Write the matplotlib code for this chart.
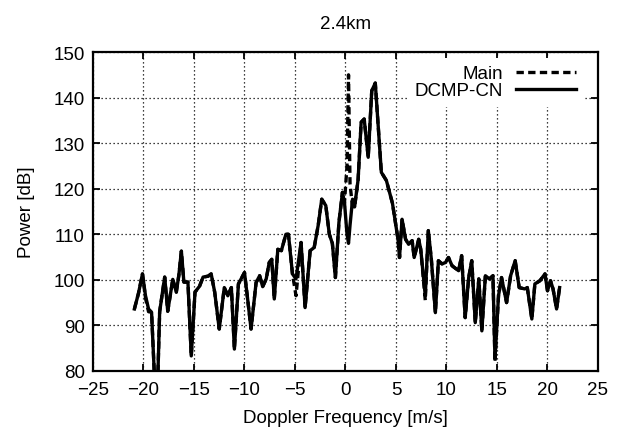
import matplotlib
matplotlib.use("Agg")
import matplotlib.pyplot as plt

plt.rcParams['font.family'] = ['Liberation Sans', 'DejaVu Sans']

### Spectrum values (Doppler velocity [m/s] vs power [dB])
freq = [-20.9, -20.5, -20.1, -19.8, -19.5, -19.2, -18.9, -18.6, -18.4, -17.9,
        -17.6, -17.1, -16.75, -16.5, -16.25, -16.0, -15.6, -15.27, -14.9, -14.45,
        -14.1, -13.6, -13.3, -12.95, -12.5, -12.0, -11.65, -11.3, -11.0, -10.6,
        -10.0, -9.7, -9.35, -8.85, -8.5, -8.2, -7.85, -7.55, -7.3, -7.05,
        -6.7, -6.35, -5.9, -5.65, -5.25, -4.9, -4.4, -4.0, -3.5, -3.1,
        -2.7, -2.35, -1.95, -1.6, -1.3, -1.0, -0.65, -0.3, -0.1, 0.15,
        0.3, 0.45, 0.7, 0.9, 1.25, 1.55, 1.85, 2.25, 2.6, 2.95,
        3.55, 4.05, 4.65, 5.2, 5.35, 5.6, 5.95, 6.25, 6.6, 6.8,
        7.25, 7.45, 7.9, 8.2, 8.5, 8.9, 9.2, 9.55, 9.9, 10.2,
        10.55, 10.9, 11.2, 11.5, 11.85, 12.2, 12.5, 12.85, 13.2, 13.5,
        13.85, 14.25, 14.6, 14.8, 15.15, 15.45, 15.95, 16.35, 16.8, 17.2,
        17.75, 18.0, 18.45, 18.75, 19.25, 19.75, 20.0, 20.3, 20.55, 20.9,
        21.2]

dcmp_cn = [93.6, 97.0, 101.3, 96.5, 93.6, 92.9, 78.0, 77.0, 93.0, 100.6,
           93.1, 100.1, 97.3, 101.0, 106.3, 99.5, 99.5, 83.3, 97.3, 98.6,
           100.6, 100.8, 101.3, 97.3, 89.2, 98.3, 96.5, 98.3, 84.8, 99.1,
           101.6, 96.0, 89.2, 99.4, 100.9, 98.5, 100.2, 103.8, 104.5, 95.8,
           106.7, 106.4, 110.0, 110.0, 101.3, 100.2, 108.2, 93.9, 106.4, 107.1,
           112.0, 117.7, 116.3, 110.0, 108.0, 100.5, 112.6, 119.2, 117.0, 110.0,
           108.0, 112.0, 117.7, 116.0, 122.0, 134.6, 135.3, 126.9, 141.5, 143.2,
           123.6, 121.8, 116.8, 108.9, 104.9, 113.3, 108.9, 107.8, 108.6, 104.9,
           108.9, 106.7, 96.5, 110.8, 104.5, 92.8, 104.2, 103.5, 103.8, 104.9,
           103.1, 102.5, 102.0, 105.3, 91.7, 100.5, 104.2, 90.6, 100.2, 88.8,
           100.9, 100.2, 100.9, 82.6, 96.5, 100.5, 95.0, 100.9, 104.2, 98.3,
           98.0, 98.3, 91.4, 99.1, 99.8, 101.3, 97.6, 99.8, 98.0, 93.6,
           98.3]

main = [93.6, 97.0, 101.3, 96.0, 93.0, 92.9, 78.0, 77.0, 93.0, 100.6,
        93.1, 100.1, 97.3, 101.0, 106.3, 99.5, 99.5, 83.3, 97.3, 98.6,
        100.6, 100.8, 101.3, 97.3, 89.2, 98.3, 96.5, 98.3, 84.8, 99.1,
        101.6, 96.0, 89.2, 99.4, 100.9, 98.5, 100.2, 103.8, 104.5, 95.8,
        106.7, 106.4, 110.0, 110.0, 101.3, 96.5, 108.2, 93.9, 106.4, 107.1,
        112.0, 117.7, 116.3, 110.0, 108.0, 100.5, 112.6, 119.2, 117.0, 125.0,
        145.0, 121.0, 116.0, 116.0, 122.0, 134.6, 135.3, 126.9, 141.5, 143.2,
        123.6, 121.8, 116.8, 108.9, 104.9, 113.3, 108.9, 107.8, 108.6, 104.9,
        108.9, 106.7, 95.5, 110.8, 104.5, 92.8, 104.2, 103.5, 103.8, 104.9,
        103.1, 102.5, 102.0, 105.3, 91.7, 100.5, 104.2, 90.6, 100.2, 88.8,
        100.9, 100.2, 100.9, 82.0, 96.5, 100.5, 95.0, 100.9, 104.2, 98.3,
        98.0, 98.3, 91.4, 99.1, 99.8, 101.3, 97.6, 99.8, 98.0, 93.6,
        98.3]

x_ticks = list(range(-25, 26, 5))
y_ticks = list(range(80, 151, 10))

### Plot
fig = plt.figure(figsize=(6.22, 4.35), dpi=100)
ax = fig.add_axes([0.1495, 0.145, 0.8119, 0.733])

ax.plot(freq, main, color='black', lw=2.4, linestyle=(0, (2.2, 1.3)), label='Main')
ax.plot(freq, dcmp_cn, color='black', lw=2.4, label='DCMP-CN')

ax.set_xlim(-25, 25)
ax.set_ylim(80, 150)
ax.set_xticks(x_ticks)
ax.set_yticks(y_ticks)
ax.grid(True, color='black', linestyle=(0, (1, 2.2)), linewidth=0.9)
ax.tick_params(direction='in', length=5, width=1.3, top=True, right=True,
               labelsize=13.5)
ax.tick_params(axis='x', pad=7)
ax.tick_params(axis='y', pad=6)
for spine in ax.spines.values():
    spine.set_linewidth(1.6)

ax.set_xlabel('Doppler Frequency [m/s]', fontsize=13.5, labelpad=8)
ax.set_ylabel('Power [dB]', fontsize=13.5, labelpad=13)
ax.set_title('2.4km', fontsize=13.5, pad=17)

leg = ax.legend(loc='upper right', markerfirst=False, fontsize=13.5,
                handlelength=3.2, labelspacing=0.0, handletextpad=0.7,
                borderaxespad=0.3, borderpad=0.4, fancybox=False,
                framealpha=1.0, edgecolor='none', facecolor='white')
leg.set_bbox_to_anchor((0.983, 1.0), transform=ax.transAxes)

fig.savefig('out.png', dpi=100)
